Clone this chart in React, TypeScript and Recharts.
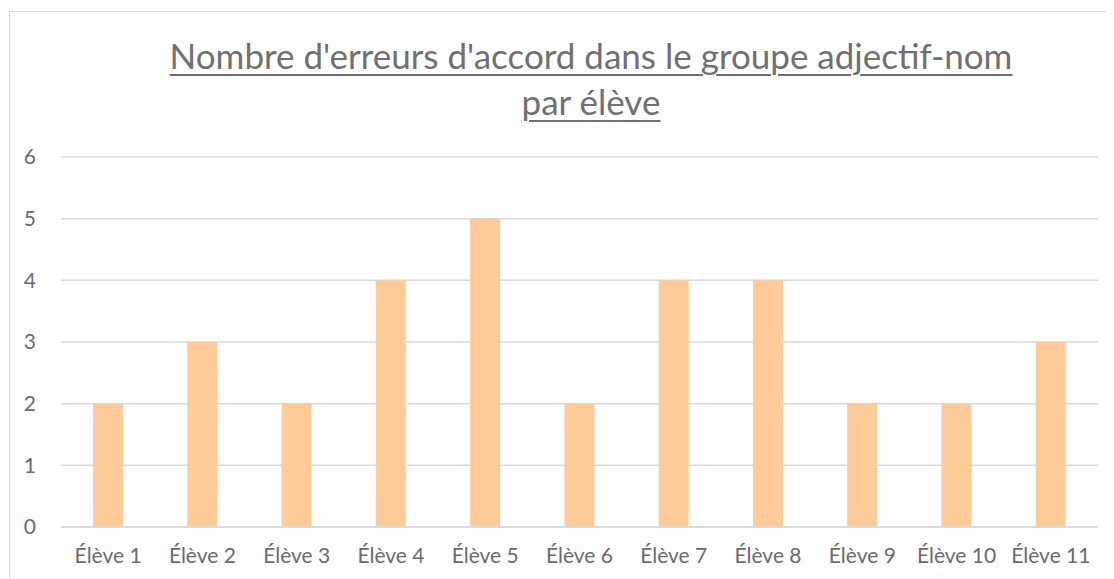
import { BarChart, Bar, XAxis, YAxis, CartesianGrid } from "recharts";

const eleves = ["Élève 1", "Élève 2", "Élève 3", "Élève 4", "Élève 5", "Élève 6", "Élève 7", "Élève 8", "Élève 9", "Élève 10", "Élève 11"];
const erreurs = [2, 3, 2, 4, 5, 2, 4, 4, 2, 2, 3];
const yTicks = [0, 1, 2, 3, 4, 5, 6];

const titleLines = ["Nombre d'erreurs d'accord dans le groupe adjectif-nom", "par élève"];

const data = eleves.map((name, i) => ({ name, v: erreurs[i] }));

const font = "Lato, 'Open Sans', sans-serif";
const grey = "#6b6b6b";

export default function App() {
  return (
    <div style={{ position: "relative", width: 1106, height: 571, overflow: "hidden", fontFamily: font }}>
      <div
        style={{
          position: "absolute",
          left: 1,
          top: 3,
          width: 1120,
          height: 600,
          border: "1.5px solid #d9d9d9",
          boxSizing: "border-box",
        }}
      />
      <div
        style={{
          position: "absolute",
          left: 0,
          top: 24,
          width: 1166,
          textAlign: "center",
          color: "#707070",
          fontSize: 35,
          lineHeight: "46px",
          textDecoration: "underline",
          textDecorationThickness: 2,
          textUnderlineOffset: 5,
        }}
      >
        {titleLines.map((t) => (
          <div key={t}>
            <span>{t}</span>
          </div>
        ))}
      </div>
      <div style={{ position: "absolute", left: 0, top: 0 }}>
        <BarChart width={1106} height={571} data={data} margin={{ top: 149, right: 16, bottom: 22, left: 0 }} barCategoryGap={0}>
          <CartesianGrid vertical={false} stroke="#d9d9d9" strokeWidth={1.5} />
          <XAxis
            dataKey="name"
            axisLine={{ stroke: "#d9d9d9", strokeWidth: 1.5 }}
            tickLine={false}
            interval={0}
            height={30}
            tick={{ fill: grey, fontSize: 21, fontFamily: font }}
            tickMargin={15}
          />
          <YAxis
            domain={[0, 6]}
            ticks={yTicks}
            width={53}
            axisLine={false}
            tickLine={false}
            tick={{ fill: grey, fontSize: 21, fontFamily: font }}
            tickMargin={19}
          />
          <Bar dataKey="v" fill="#FFCC99" barSize={30} isAnimationActive={false} />
        </BarChart>
      </div>
    </div>
  );
}
